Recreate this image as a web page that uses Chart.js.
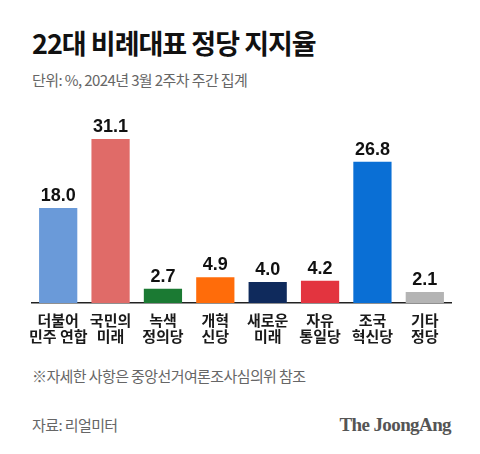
<!DOCTYPE html>
<html><head><meta charset="utf-8">
<script src="https://cdn.jsdelivr.net/npm/chart.js@4"></script>
<style>
html,body{margin:0;padding:0;background:#fff;width:480px;height:454px;overflow:hidden;font-family:"Noto Sans CJK KR",sans-serif;}
.t{position:absolute;white-space:nowrap;}
#title{left:32px;top:25px;font-size:27px;font-weight:700;color:#111;letter-spacing:-1px;line-height:36px;}
#sub{left:32px;top:70px;font-size:15px;color:#666;letter-spacing:-0.6px;line-height:20px;}
#note{left:32px;top:366px;font-size:15px;color:#666;letter-spacing:-0.6px;line-height:20px;}
#src{left:32px;top:415px;font-size:15px;color:#666;letter-spacing:-0.6px;line-height:20px;}
#brand{right:29px;top:413px;font-family:"Liberation Serif","DejaVu Serif",serif;font-weight:700;font-size:19px;color:#555;letter-spacing:-0.6px;line-height:24px;}
#wrap{position:absolute;left:0;top:100px;width:480px;height:260px;}
</style></head>
<body>
<div class="t" id="title">22대 비례대표 정당 지지율</div>
<div class="t" id="sub">단위: %, 2024년 3월 2주차 주간 집계</div>
<div id="wrap"><canvas id="c"></canvas></div>
<div class="t" id="note">※자세한 사항은 중앙선거여론조사심의위 참조</div>
<div class="t" id="src">자료: 리얼미터</div>
<div class="t" id="brand">The JoongAng</div>
<script>
const categories = [["더불어","민주 연합"],["국민의","미래"],["녹색","정의당"],["개혁","신당"],["새로운","미래"],["자유","통일당"],["조국","혁신당"],["기타","정당"]];
const values = [18.0, 31.1, 2.7, 4.9, 4.0, 4.2, 26.8, 2.1];
const barColors = ["#6a9ad9","#e06b68","#1b7a33","#ff6c0a","#0f2a5c","#e3343f","#0a6fd5","#b4b4b4"];
const yMax = 38.5;

const valueLabels = {
  id:'valueLabels',
  afterDatasetsDraw(chart){
    const ctx = chart.ctx;
    const meta = chart.getDatasetMeta(0);
    ctx.save();
    ctx.font = 'bold 18px "Liberation Sans", Arial, sans-serif';
    ctx.fillStyle = '#111';
    ctx.textAlign = 'center';
    ctx.textBaseline = 'alphabetic';
    meta.data.forEach((bar,i)=>{
      ctx.fillText(values[i].toFixed(1), bar.x, bar.y - 7);
    });
    ctx.restore();
  }
};

new Chart(document.getElementById('c'), {
  type:'bar',
  data:{labels:categories, datasets:[{data:values, backgroundColor:barColors, borderWidth:0, categoryPercentage:1, barPercentage:0.73}]},
  options:{
    responsive:true, maintainAspectRatio:false, animation:false,
    layout:{padding:{left:32,right:29,top:0,bottom:0}},
    plugins:{legend:{display:false},tooltip:{enabled:false},title:{display:false}},
    scales:{
      y:{display:false,min:0,max:yMax},
      x:{
        grid:{display:false,drawTicks:false},
        border:{display:true,color:'#222',width:1.5},
        ticks:{color:'#1a1a1a',padding:9,maxRotation:0,autoSkip:false,
          font:{family:'"Noto Sans CJK KR", sans-serif',size:15,weight:'600',lineHeight:1.1}},
        afterFit(axis){ axis.height = 57; }
      }
    }
  },
  plugins:[valueLabels]
});
</script>
</body></html>
